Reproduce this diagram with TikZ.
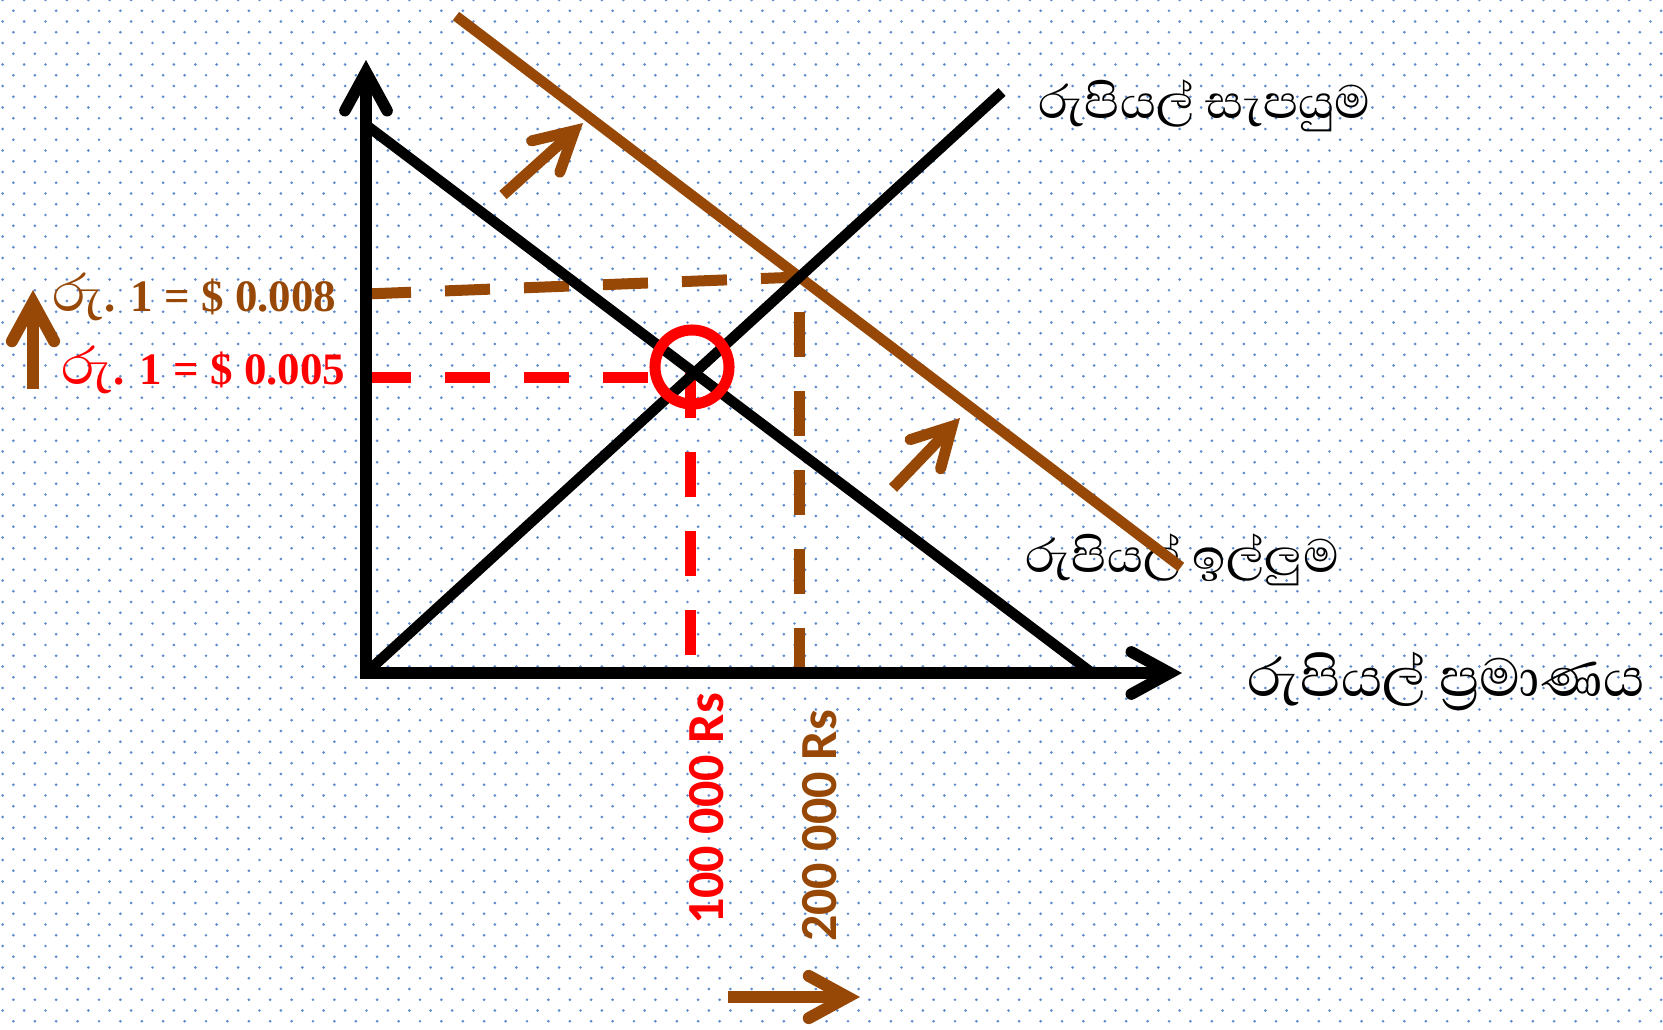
\documentclass[tikz,border=0pt]{standalone}
\usepackage{fontspec}
\setmainfont{Liberation Serif}
\newfontfamily\sinhala[Script=Sinhala]{Abhaya Libre}
\newfontfamily\calibri{Carlito}
\usetikzlibrary{arrows.meta, positioning}
\definecolor{rupeebrown}{RGB}{151,72,6}
\definecolor{dotblue}{RGB}{95,140,205}

\newcommand{\rupeesign}{{\sinhala\mdseries\fontsize{19}{20}\selectfont රු}}

\begin{document}
\begin{tikzpicture}[
    x=0.01cm, y=-0.01cm,
    barb/.style={-{Straight Barb[length=11pt, width=12pt, line cap=round, line join=miter]}},
    axis/.style={line width=0.115cm, {Straight Barb[length=11pt, width=12pt, line cap=round, line join=miter]}-{Straight Barb[length=11pt, width=12pt, line cap=round, line join=miter]}},
    curve/.style={line width=0.105cm},
    guide/.style={line width=0.11cm, dash pattern=on 0.45cm off 0.34cm},
    shiftarrow/.style={barb, rupeebrown, line width=0.11cm},
    price/.style={anchor=west, inner sep=0pt, font=\bfseries\fontsize{12.8}{14}\selectfont},
    amount/.style={rotate=90, inner sep=0pt, font=\calibri\bfseries\fontsize{14.8}{16}\selectfont},
    curvelabel/.style={anchor=west, inner sep=0pt, font=\sinhala\fontsize{17}{20}\selectfont}
]
\useasboundingbox (0,0) rectangle (1663,1030);

% dotted background, one row per path
\foreach \j in {0,...,96} {
    \fill[dotblue] \foreach \i in {0,...,78} {
        ({\i*21.4 + mod(\j,2)*10.7 + 2.7}, {\j*10.75}) circle (0.42pt)
    };
}

% Points on the axes and curves
\coordinate (origin) at (366,673);
\coordinate (ytop) at (366,60);
\coordinate (xend) at (1182,673);
\coordinate (dtop) at (366,125);
\coordinate (dend) at (1092,673);
\coordinate (send) at (1002,92);
\coordinate (btop) at (456,16);
\coordinate (bend) at (1181,567);
\coordinate (e1) at (intersection of dtop--dend and origin--send);
\coordinate (e2) at (intersection of btop--bend and origin--send);
\coordinate (ymark1) at (366,377);
\coordinate (ymark2) at (366,294);
\coordinate (xmark1) at (690,673);

% Labels
\node[price, text=rupeebrown] (price2) at (52,297) {\rupeesign. 1 = \$ 0.008};
\node[price, text=red] (price1) at (61,370) {\rupeesign. 1 = \$ 0.005};
\node[amount, text=red] (amount1) at (707,809) {100 000 Rs};
\node[amount, text=rupeebrown] (amount2) at (820,826) {200 000 Rs};
\node[curvelabel] (supplylbl) at (1038,106) {රුපියල් සැපයුම};
\node[curvelabel] (demandlbl) at (1025,560) {රුපියල් ඉල්ලුම};
\node[curvelabel, font=\sinhala\fontsize{19.5}{22}\selectfont] (quantitylbl) at (1247,681) {රුපියල් ප්^^^^200dරමාණය};

% Shifted demand and guides
\draw[curve, rupeebrown] (btop) -- (bend);
\draw[guide, rupeebrown] (ymark2) -- (e2);
\draw[guide, rupeebrown] (e2 |- origin) -- (e2);
\draw[guide, red] (ymark1) -- (ymark1 -| 655,0);
\draw[guide, red] (xmark1 |- e1) -- (xmark1);

% Axes and curves
\draw[axis] (ytop) -- (origin) -- (xend);
\draw[curve] (dtop) -- (dend);
\draw[curve] (origin) -- (send);
\node[circle, draw=red, line width=0.11cm, minimum size=0.74cm, inner sep=0pt] (eq) at (692,367) {};

% Shift arrows
\coordinate (sh1a) at (503,195);
\coordinate (sh1b) at (583,123);
\coordinate (sh2a) at (893,488);
\coordinate (sh2b) at (960,418);
\coordinate (upa) at (33,389);
\coordinate (upb) at (33,290);
\coordinate (righta) at (728,997);
\coordinate (rightb) at (860,997);
\draw[shiftarrow] (sh1a) -- (sh1b);
\draw[shiftarrow] (sh2a) -- (sh2b);
\draw[shiftarrow, line width=0.12cm] (upa) -- (upb);
\draw[shiftarrow, line width=0.12cm] (righta) -- (rightb);

\end{tikzpicture}
\end{document}
